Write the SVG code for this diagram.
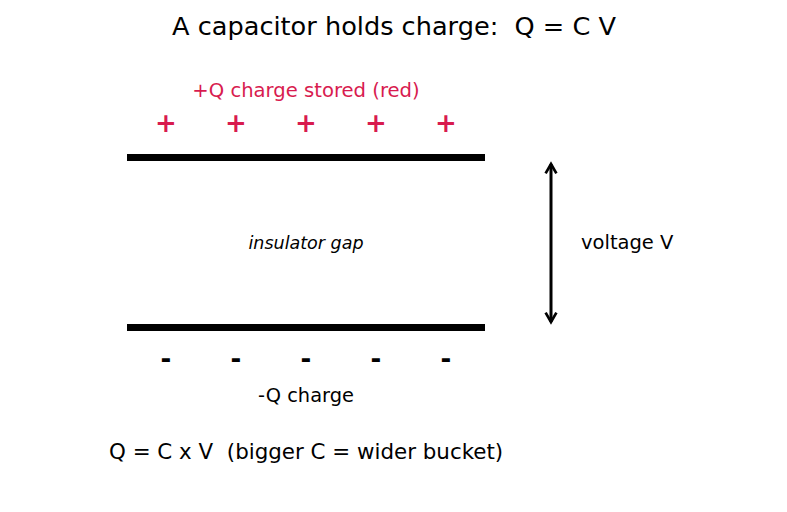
<svg xmlns="http://www.w3.org/2000/svg" width="787" height="512" viewBox="0 0 787 512">
<style>
text{font-family:"DejaVu Sans","Liberation Sans",sans-serif;white-space:pre}
.plus{fill:#d81b4f;font-size:26px;font-weight:bold;text-anchor:middle}
.minus{fill:#000;font-size:26px;font-weight:bold;text-anchor:middle}
.plate{stroke:#000;stroke-width:7}
</style>
<defs>
<marker id="ah" viewBox="0 0 10 10" refX="8" refY="5" markerWidth="4.5" markerHeight="4.5" orient="auto-start-reverse">
<path d="M1,1 L8,5 L1,9" fill="none" stroke="#000" stroke-width="2"/>
</marker>
</defs>
<rect width="787" height="512" fill="#fff"/>
<text x="394" y="35" font-size="25.6" text-anchor="middle" xml:space="preserve">A capacitor holds charge:  Q = C V</text>
<g id="top-plate">
<text x="306" y="97" font-size="19.6" fill="#d81b4f" text-anchor="middle">+Q charge stored (red)</text>
<text class="plus" x="166" y="132">+</text>
<text class="plus" x="236" y="132">+</text>
<text class="plus" x="306" y="132">+</text>
<text class="plus" x="376" y="132">+</text>
<text class="plus" x="446" y="132">+</text>
<line class="plate" x1="127" y1="157.5" x2="485" y2="157.5"/>
</g>
<g id="gap">
<text x="306" y="249" font-size="17.5" font-style="italic" text-anchor="middle">insulator gap</text>
</g>
<g id="bottom-plate">
<line class="plate" x1="127" y1="327.5" x2="485" y2="327.5"/>
<text class="minus" x="166" y="368">-</text>
<text class="minus" x="236" y="368">-</text>
<text class="minus" x="306" y="368">-</text>
<text class="minus" x="376" y="368">-</text>
<text class="minus" x="446" y="368">-</text>
<text x="306" y="402" font-size="19.4" text-anchor="middle">-Q charge</text>
</g>
<g id="connectors">
<line x1="551" y1="164" x2="551" y2="322" stroke="#000" stroke-width="3" marker-start="url(#ah)" marker-end="url(#ah)"/>
</g>
<g id="voltage">
<text x="581" y="249" font-size="19.5">voltage V</text>
</g>
<g id="formula">
<text x="109" y="459" font-size="21.4" xml:space="preserve">Q = C x V  (bigger C = wider bucket)</text>
</g>
</svg>
